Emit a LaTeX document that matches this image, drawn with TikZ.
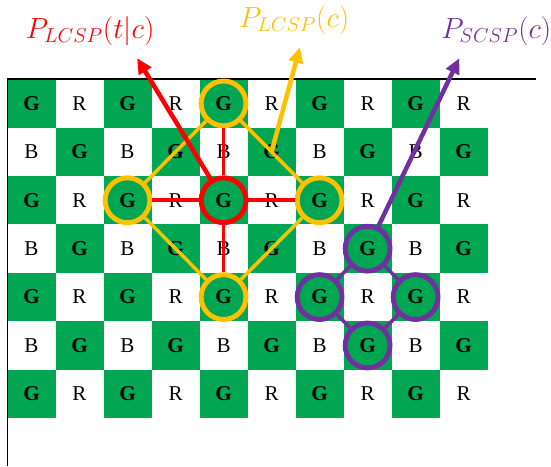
\documentclass[tikz,border=0pt]{standalone}
\usepackage{fontspec}
\setmainfont{Liberation Serif}
\usetikzlibrary{arrows.meta,calc}
\definecolor{cellgreen}{RGB}{0,166,81}
\definecolor{lcspred}{RGB}{255,0,0}
\definecolor{lcspyellow}{RGB}{255,192,0}
\definecolor{scsppurple}{RGB}{112,48,160}

\tikzset{
  cell/.style={minimum width=1.2cm, minimum height=1.21cm, inner sep=0pt, font=\fontsize{15}{17}\selectfont},
  gcell/.style={cell, fill=cellgreen, font=\fontsize{15}{17}\selectfont\bfseries},
  ring/.style={circle, draw=#1, line width=3.5pt, minimum size=1.12cm, inner sep=0pt},
  link/.style={draw=#1, line width=2.5pt},
  pointer/.style={draw=#1, line width=3.2pt, -{Triangle[length=11pt,width=10pt]}},
  prob/.style={text=#1, font=\fontsize{21}{25}\selectfont},
}

\begin{document}
\begin{tikzpicture}[x=1.2cm, y=-1.21cm]
  \useasboundingbox (-0.156,-1.636) rectangle (11.32,7.99);

  % Board
  \foreach \i in {0,...,6} {
    \foreach \j in {0,...,9} {
      \pgfmathtruncatemacro{\odd}{mod(\i+\j,2)}
      \pgfmathtruncatemacro{\oddrow}{mod(\i,2)}
      \ifnum\odd=0
        \node[gcell] (c-\i-\j) at (\j+0.5,\i+0.5) {G};
      \else
        \ifnum\oddrow=0
          \node[cell] (c-\i-\j) at (\j+0.5,\i+0.5) {R};
        \else
          \node[cell] (c-\i-\j) at (\j+0.5,\i+0.5) {B};
        \fi
      \fi
    }
  }

  % Frame
  \coordinate (corner) at (0,0);
  \coordinate (topend) at (11,0);
  \coordinate (leftend) at (0,7.99);
  \draw[line width=1.4pt] (topend) -- (corner) -- (leftend);

  % LCSP rings
  \node[ring=lcspred] (lc) at (c-2-4) {};
  \node[ring=lcspyellow] (lt) at (c-0-4) {};
  \node[ring=lcspyellow] (ll) at (c-2-2) {};
  \node[ring=lcspyellow] (lr) at (c-2-6) {};
  \node[ring=lcspyellow] (lb) at (c-4-4) {};

  % SCSP rings
  \node[ring=scsppurple] (st) at (c-3-7) {};
  \node[ring=scsppurple] (sl) at (c-4-6) {};
  \node[ring=scsppurple] (sr) at (c-4-8) {};
  \node[ring=scsppurple] (sb) at (c-5-7) {};

  % Links
  \draw[link=lcspyellow] (lt) -- (ll);
  \draw[link=lcspyellow] (lt) -- (lr);
  \draw[link=lcspyellow] (ll) -- (lb);
  \draw[link=lcspyellow] (lr) -- (lb);
  \draw[link=lcspred] (lc) -- (lt);
  \draw[link=lcspred] (lc) -- (ll);
  \draw[link=lcspred] (lc) -- (lr);
  \draw[link=lcspred] (lc) -- (lb);
  \draw[link=scsppurple] (st) -- (sl);
  \draw[link=scsppurple] (st) -- (sr);
  \draw[link=scsppurple] (sl) -- (sb);
  \draw[link=scsppurple] (sr) -- (sb);

  % Labels
  \node[prob=lcspred] (labred) at (1.72,-0.99) {$P_{LCSP}(t|c)$};
  \node[prob=lcspyellow] (labyel) at (5.97,-1.22) {$P_{LCSP}(c)$};
  \node[prob=scsppurple] (labpur) at (10.18,-1.0) {$P_{SCSP}(c)$};

  % Pointers
  \coordinate (tipred) at (2.70,-0.435);
  \coordinate (tipyel) at (6.09,-0.66);
  \coordinate (tippur) at (9.41,-0.435);
  \coordinate (ymid) at ($(lt)!0.5!(lr)$);
  \draw[pointer=lcspred] (lc) -- (tipred);
  \draw[pointer=lcspyellow] (ymid) -- (tipyel);
  \draw[pointer=scsppurple] (st) -- (tippur);
\end{tikzpicture}
\end{document}
